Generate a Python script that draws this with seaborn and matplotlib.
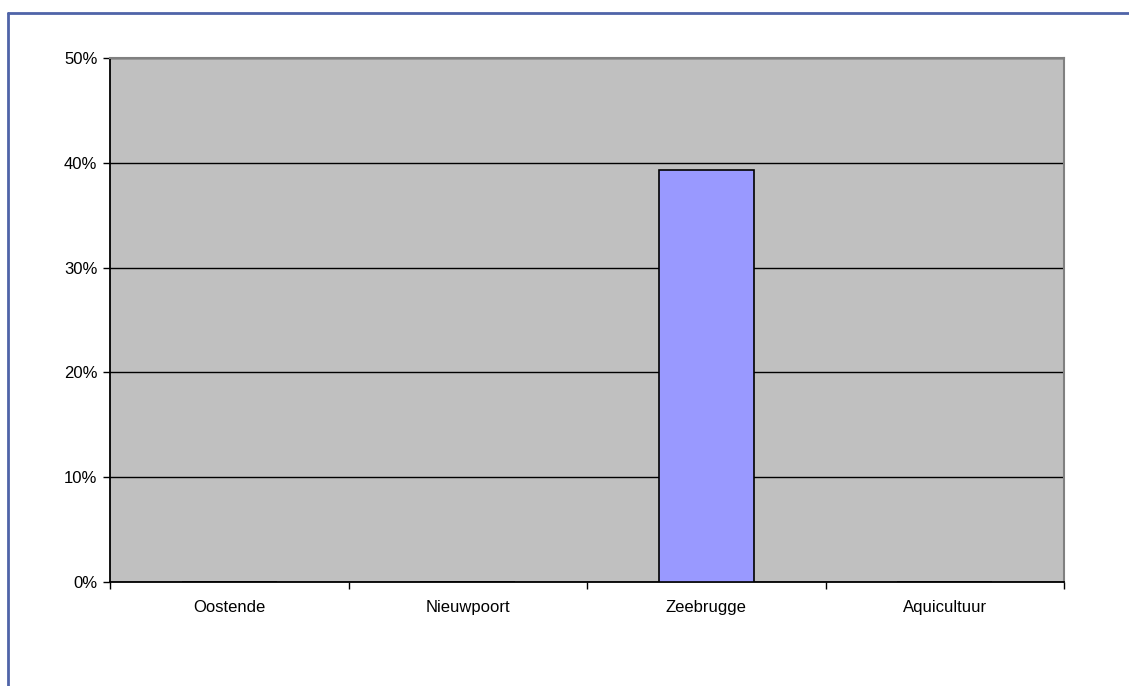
import matplotlib
matplotlib.use("Agg")
import matplotlib.pyplot as plt
import seaborn as sns
import pandas as pd
from matplotlib.lines import Line2D
from matplotlib.ticker import FixedLocator, PercentFormatter

# data
locations = ["Oostende", "Nieuwpoort", "Zeebrugge", "Aquicultuur"]
shares = [0.0, 0.0, 39.3, 0.0]
y_ticks = [0, 10, 20, 30, 40, 50]

df = pd.DataFrame({"locatie": locations, "aandeel": shares})

sns.set_theme(style="white")
plt.rcParams["font.family"] = ["Liberation Sans", "DejaVu Sans"]
plt.rcParams["text.color"] = "black"
plt.rcParams["xtick.labelcolor"] = "black"
plt.rcParams["ytick.labelcolor"] = "black"

fig = plt.figure(figsize=(11.29, 6.86), dpi=100)
ax = fig.add_axes([110 / 1129, 1 - 582 / 686, (1064 - 110) / 1129, (582 - 58) / 686])
ax.set_facecolor("#C0C0C0")

sns.barplot(data=df, x="locatie", y="aandeel", color="#9999FF", saturation=1,
            width=0.4, edgecolor="black", linewidth=1.2, ax=ax, zorder=3)

ax.set_xlim(-0.5, len(locations) - 0.5)
ax.set_ylim(0, 50)
ax.set_yticks(y_ticks)
ax.yaxis.set_major_formatter(PercentFormatter(decimals=0))
ax.grid(axis="y", color="black", linewidth=1)
ax.set_axisbelow(True)

# ticks at category boundaries, labels centred
ax.xaxis.set_major_locator(FixedLocator([i - 0.5 for i in range(len(locations) + 1)]))
ax.xaxis.set_minor_locator(FixedLocator(list(range(len(locations)))))
ax.set_xticklabels([])
ax.set_xticklabels(locations, minor=True)
ax.tick_params(axis="x", which="major", direction="out", length=5, width=1, color="black", bottom=True)
ax.tick_params(axis="x", which="minor", length=0, pad=13, labelsize=12, labelcolor="black", bottom=True)
ax.tick_params(axis="y", direction="out", length=5, width=1, color="black", left=True,
               labelsize=12, labelcolor="black", pad=4)
ax.set_xlabel("")
ax.set_ylabel("")

for side in ["left", "bottom"]:
    ax.spines[side].set_color("black")
    ax.spines[side].set_linewidth(1.3)
for side in ["top", "right"]:
    ax.spines[side].set_color("#808080")
    ax.spines[side].set_linewidth(1.5)

# outer frame of the chart object
frame = "#4F64A8"
fig.add_artist(Line2D([7.5 / 1129, 1], [1 - 13 / 686, 1 - 13 / 686], color=frame, linewidth=2, transform=fig.transFigure))
fig.add_artist(Line2D([7.5 / 1129, 7.5 / 1129], [0, 1 - 13 / 686], color=frame, linewidth=2, transform=fig.transFigure))

fig.savefig("out.png", dpi=100)
